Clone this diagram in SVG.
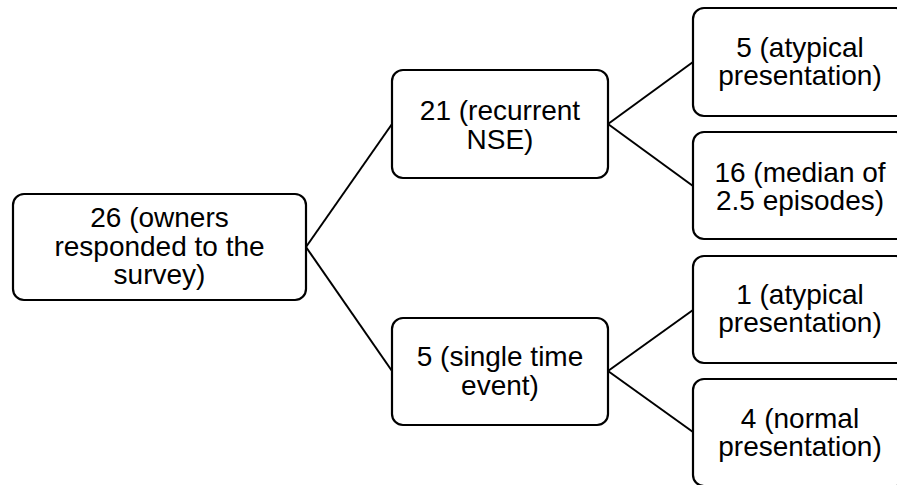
<svg xmlns="http://www.w3.org/2000/svg" width="897" height="485" viewBox="0 0 897 485">
<style>
.box{fill:#fff;stroke:#000;stroke-width:2.2}
.t{font-family:"Liberation Sans",Arial,sans-serif;font-size:28px;fill:#000;text-anchor:middle}
.c{stroke:#000;stroke-width:2;fill:none}
</style>
<rect width="897" height="485" fill="#fff"/>
<g id="connectors">
<line class="c" x1="306" y1="247" x2="392" y2="124"/>
<line class="c" x1="306" y1="247" x2="392" y2="371"/>
<line class="c" x1="608" y1="124" x2="693" y2="62"/>
<line class="c" x1="608" y1="124" x2="693" y2="186"/>
<line class="c" x1="608" y1="371" x2="693" y2="310"/>
<line class="c" x1="608" y1="371" x2="693" y2="432"/>
</g>
<g id="n26">
<rect class="box" x="13" y="194" width="293" height="106" rx="11"/>
<text class="t" x="159.5" y="227">26 (owners</text>
<text class="t" x="159.5" y="255.5">responded to the</text>
<text class="t" x="159.5" y="284">survey)</text>
</g>
<g id="n21">
<rect class="box" x="392" y="70" width="216" height="108" rx="11"/>
<text class="t" x="500" y="120">21 (recurrent</text>
<text class="t" x="500" y="148.5">NSE)</text>
</g>
<g id="n5s">
<rect class="box" x="392" y="318" width="216" height="107" rx="11"/>
<text class="t" x="500" y="366">5 (single time</text>
<text class="t" x="500" y="394.5">event)</text>
</g>
<g id="n5a">
<rect class="box" x="693" y="8" width="214" height="108" rx="11"/>
<text class="t" x="800" y="57">5 (atypical</text>
<text class="t" x="800" y="85">presentation)</text>
</g>
<g id="n16">
<rect class="box" x="693" y="132" width="214" height="107" rx="11"/>
<text class="t" x="800" y="182">16 (median of</text>
<text class="t" x="800" y="210">2.5 episodes)</text>
</g>
<g id="n1a">
<rect class="box" x="693" y="256" width="214" height="107" rx="11"/>
<text class="t" x="800" y="303.5">1 (atypical</text>
<text class="t" x="800" y="331.5">presentation)</text>
</g>
<g id="n4">
<rect class="box" x="693" y="379" width="214" height="107" rx="11"/>
<text class="t" x="800" y="427.5">4 (normal</text>
<text class="t" x="800" y="455.5">presentation)</text>
</g>
</svg>
